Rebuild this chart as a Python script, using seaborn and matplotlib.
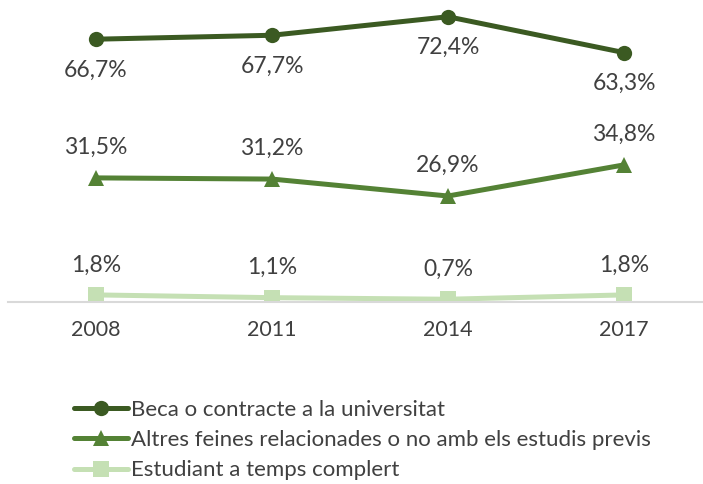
import matplotlib
matplotlib.use("Agg")
import matplotlib.pyplot as plt
import seaborn as sns
import pandas as pd

years = ["2008", "2011", "2014", "2017"]
beca = [66.7, 67.7, 72.4, 63.3]
altres = [31.5, 31.2, 26.9, 34.8]
estudiant = [1.8, 1.1, 0.7, 1.8]
series_names = [
    "Beca o contracte a la universitat",
    "Altres feines relacionades o no amb els estudis previs",
    "Estudiant a temps complert",
]
colors = ["#3b5a22", "#548235", "#c5e0b4"]
markers = ["o", "^", "s"]
label_offsets = [-31, 31, 30]  # pixels: below for the first series, above for others

sns.set_theme(style="white")
plt.rcParams["font.family"] = ["Lato", "DejaVu Sans"]
text_color = "#404040"

rows = []
for name, vals in zip(series_names, [beca, altres, estudiant]):
    for i, (yr, v) in enumerate(zip(years, vals)):
        rows.append({"pos": i, "year": yr, "value": v, "serie": name})
df = pd.DataFrame(rows)

fig = plt.figure(figsize=(7.03, 4.84), dpi=100)
ax = fig.add_axes([8 / 703, (484 - 302) / 484, 695 / 703, 297 / 484])

sns.lineplot(
    data=df, x="pos", y="value", hue="serie", style="serie",
    palette=dict(zip(series_names, colors)),
    markers=dict(zip(series_names, markers)),
    dashes=False, linewidth=3.6, markersize=11, markeredgewidth=0,
    ax=ax, legend=True, sort=False,
)

# value labels
for name, vals, off in zip(series_names, [beca, altres, estudiant], label_offsets):
    for i, v in enumerate(vals):
        ax.annotate(
            f"{v:.1f}%".replace(".", ","), xy=(i, v), xytext=(0, off * 0.72),
            textcoords="offset points", ha="center", va="center",
            fontsize=16.5, color=text_color,
        )

ax.set_xlim(-0.5, 3 + 79 / 176)
ax.set_ylim(0, 297 / 3.94)
ax.set_xticks(range(len(years)))
ax.set_xticklabels(years, fontsize=15.5, color=text_color)
ax.tick_params(axis="x", length=0, pad=13)
ax.set_yticks([])
ax.set_xlabel("")
ax.set_ylabel("")
for side in ["top", "right", "left"]:
    ax.spines[side].set_visible(False)
ax.spines["bottom"].set_color("#d9d9d9")
ax.spines["bottom"].set_linewidth(1.5)

handles, labels = ax.get_legend_handles_labels()
ax.get_legend().remove()
leg = fig.legend(
    handles, labels, loc="upper left", bbox_to_anchor=(74 / 703, 1 - 400 / 484),
    frameon=False, fontsize=16, handlelength=2.45, handletextpad=0.12,
    labelspacing=0.46, borderpad=0, borderaxespad=0,
)
for t in leg.get_texts():
    t.set_color(text_color)

fig.savefig("out.png", dpi=100)
